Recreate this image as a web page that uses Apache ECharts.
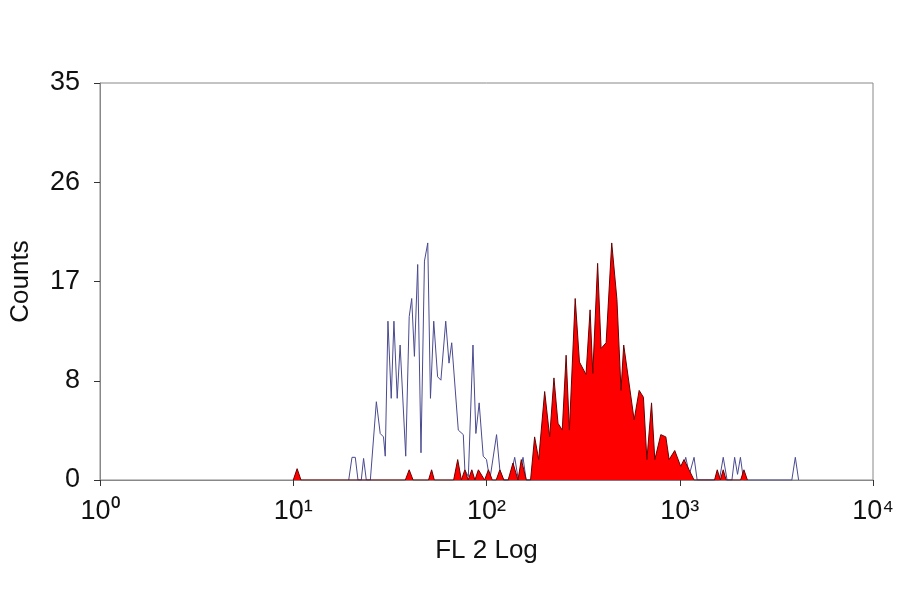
<!DOCTYPE html>
<html><head><meta charset="utf-8">
<script src="https://cdn.jsdelivr.net/npm/echarts@6/dist/echarts.min.js"></script>
<style>html,body{margin:0;padding:0;background:#fff}#c{width:900px;height:594px}</style>
</head><body><div id="c"></div>
<script>
const xTickLabels = ['10⁰','10¹','10²','10³','10⁴'];
const yTickLabels = ['0','8','17','26','35'];
const blueLog = [1.287,1.304,1.321,1.335,1.352,1.364,1.378,1.399,1.430,1.450,1.467,1.476,1.490,1.507,1.521,1.538,1.553,1.582,1.600,1.613,1.627,1.644,1.661,1.679,1.696,1.710,1.727,1.747,1.764,1.789,1.806,1.820,1.854,1.880,1.888,1.906,1.930,1.945,1.962,1.983,2.000,2.017,2.052,2.069,2.086,2.120,2.146,2.165,2.175,2.189,2.205,2.25,3.0,3.031,3.05,3.074,3.09,3.205,3.225,3.245,3.27,3.284,3.299,3.314,3.33,3.58,3.598,3.615];
const blueCounts = [0,2.0,2.0,0,0,1.9,0,0,6.9,4.1,3.8,2.1,14.0,7.2,14.0,7.2,11.9,2.1,14.4,16.0,10.9,19.0,2.4,19.3,20.9,7.2,14.0,9.1,8.8,14.0,10.3,12.1,4.4,4.0,0.9,0.3,11.9,4.1,6.8,2.1,1.8,0,4.0,0.9,0,0,2.0,0,0,2.0,0,0,0,2.0,0.5,2.0,0,0,2.0,0,0,2.0,0.5,2.0,0,0,2.0,0];
const redLog = [1.0,1.02,1.04,1.58,1.600,1.62,1.70,1.716,1.73,1.83,1.851,1.87,1.888,1.905,1.924,1.94,1.958,1.99,2.010,2.03,2.05,2.069,2.09,2.112,2.137,2.163,2.180,2.206,2.228,2.249,2.270,2.301,2.327,2.349,2.370,2.392,2.412,2.429,2.459,2.481,2.515,2.536,2.550,2.575,2.593,2.619,2.648,2.675,2.696,2.710,2.764,2.790,2.812,2.830,2.854,2.871,2.902,2.928,2.945,2.974,3.005,3.022,3.048,3.074,3.18,3.194,3.21,3.225,3.24,3.315,3.332,3.35];
const redCounts = [0,1.0,0,0,0.9,0,0,0.9,0,0,1.8,0,0.9,0,0.9,0,0.9,0,0.9,0,0,0.9,0,0,1.5,0,1.8,0,0,3.8,1.8,7.8,3.8,9.0,5.0,4.4,11.0,4.4,16.0,10.4,9.3,15.0,9.4,19.1,11.6,12.1,20.9,15.9,7.9,11.9,5.3,7.9,7.3,1.8,6.8,1.8,4.0,3.8,1.8,2.6,1.2,1.8,0.9,0,0,0.9,0,0.9,0,0,0.9,0];
const blueData = blueLog.map((x,i)=>[x,blueCounts[i]]);
const redData = redLog.map((x,i)=>[x,redCounts[i]]);
const font = 'Liberation Sans';
const chart = echarts.init(document.getElementById('c'));
chart.setOption({
  animation:false,
  grid:{left:97,right:27,top:83,bottom:114,show:true,borderColor:'#888',borderWidth:1},
  xAxis:{type:'value',min:0,max:4,interval:1,
    name:'FL 2 Log',nameLocation:'middle',nameGap:58,
    nameTextStyle:{fontFamily:font,fontSize:26,color:'#111'},
    axisLine:{lineStyle:{color:'#888'}},
    axisTick:{show:true,length:6,lineStyle:{color:'#333'}},
    splitLine:{show:false},
    axisLabel:{fontFamily:font,fontSize:27,color:'#111',margin:18,formatter:(v)=>xTickLabels[Math.round(v)]}},
  yAxis:{type:'value',min:0,max:35,interval:8.75,
    name:'Counts',nameLocation:'middle',nameGap:66,
    nameTextStyle:{fontFamily:font,fontSize:26,color:'#111'},
    axisLine:{show:true,lineStyle:{color:'#888'}},
    axisTick:{show:true,length:6,lineStyle:{color:'#333'}},
    splitLine:{show:false},
    axisLabel:{fontFamily:font,fontSize:27,color:'#111',margin:20,formatter:(v)=>yTickLabels[Math.round(v/8.75)]}},
  series:[
    {type:'line',data:blueData,symbol:'none',z:2,lineStyle:{color:'#4a4a90',width:1}},
    {type:'line',data:redData,symbol:'none',z:3,lineStyle:{color:'#6a0000',width:1},areaStyle:{color:'#ff0000',opacity:1}}
  ]
});
</script></body></html>
